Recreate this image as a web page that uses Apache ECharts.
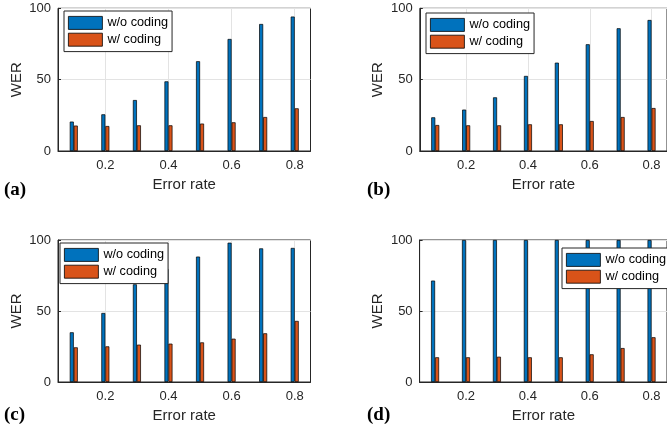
<!DOCTYPE html>
<html>
<head>
<meta charset="utf-8">
<script src="https://cdn.jsdelivr.net/npm/echarts@6/dist/echarts.min.js"></script>
<style>
  html, body { margin: 0; padding: 0; background: #fff; }
  #chart { width: 667px; height: 431px; }
</style>
</head>
<body>
<div id="chart"></div>
<script>
// error rates (x categories)
var categories = ['0.1', '0.2', '0.3', '0.4', '0.5', '0.6', '0.7', '0.8'];
var yTicks = [0, 50, 100];
var seriesNames = ['w/o coding', 'w/ coding'];
var panelLabels = ['(a)', '(b)', '(c)', '(d)'];

// WER values per panel
var woCodingA = [20.6, 25.7, 35.7, 48.8, 62.9, 78.5, 89, 94.2];
var wCodingA = [17.8, 17.5, 18, 18, 19.2, 20.1, 23.8, 29.9];

var woCodingB = [23.6, 29, 37.6, 52.6, 61.9, 74.8, 86, 91.8];
var wCodingB = [18.2, 18, 18, 18.7, 18.7, 21, 23.8, 30.1];

var woCodingC = [35, 48.6, 68.8, 79.6, 88.3, 98.1, 94.1, 94.4];
var wCodingC = [24.4, 25.1, 26.3, 27, 27.9, 30.5, 34.3, 43];

var woCodingD = [71.4, 100, 100, 100, 100, 100, 100, 100];
var wCodingD = [17.4, 17.4, 17.8, 17.4, 17.4, 19.5, 23.9, 31.5];

var panelData = [
    [woCodingA, wCodingA],
    [woCodingB, wCodingB],
    [woCodingC, wCodingC],
    [woCodingD, wCodingD]
];

var colors = ['#0072BD', '#D95319'];
var txt = '#262626';
var font = 'Liberation Sans, Arial, Helvetica, sans-serif';

var grids = [
    { left: 58, top: 8.3, width: 252.5, height: 142.7 },
    { left: 419.8, top: 8.3, width: 252.5, height: 142.7 },
    { left: 58, top: 240, width: 252.5, height: 142 },
    { left: 419.6, top: 240, width: 252.5, height: 142 }
];
var legendPos = [
    { left: 64, top: 11 },
    { left: 426, top: 13 },
    { left: 60, top: 243 },
    { left: 562, top: 248 }
];
var labelPos = [
    { left: 4, top: 181 },
    { left: 367, top: 181 },
    { left: 4, top: 406 },
    { left: 367, top: 406 }
];

function everyOther(i) { return i % 2 === 1; }

var option = {
    animation: false,
    backgroundColor: '#fff',
    color: colors,
    grid: grids.map(function (g) {
        return Object.assign({
            show: true,
            backgroundColor: 'transparent',
            borderColor: txt,
            borderWidth: 1,
            containLabel: false
        }, g);
    }),
    xAxis: grids.map(function (g, i) {
        return {
            type: 'category',
            gridIndex: i,
            data: categories,
            name: 'Error rate',
            nameLocation: 'middle',
            nameGap: 26,
            nameTextStyle: { color: txt, fontSize: 15, fontFamily: font },
            axisLine: { lineStyle: { color: txt, width: 1 } },
            axisTick: { inside: true, length: 3, alignWithLabel: true, interval: everyOther, lineStyle: { color: txt } },
            axisLabel: { interval: everyOther, color: txt, fontSize: 13, fontFamily: font, margin: 8 },
            splitLine: { show: true, interval: everyOther, alignWithLabel: true, lineStyle: { color: '#e3e3e3', width: 1 } }
        };
    }),
    yAxis: grids.map(function (g, i) {
        return {
            type: 'value',
            gridIndex: i,
            min: yTicks[0],
            max: yTicks[yTicks.length - 1],
            interval: yTicks[1] - yTicks[0],
            name: 'WER',
            nameLocation: 'middle',
            nameGap: 34,
            nameTextStyle: { color: txt, fontSize: 15, fontFamily: font },
            axisLine: { show: true, lineStyle: { color: txt, width: 1 } },
            axisTick: { show: true, inside: true, length: 3, lineStyle: { color: txt } },
            axisLabel: { color: txt, fontSize: 13, fontFamily: font, margin: 7 },
            splitLine: { show: true, lineStyle: { color: '#e3e3e3', width: 1 } }
        };
    }),
    legend: legendPos.map(function (p) {
        return {
            left: p.left,
            top: p.top,
            orient: 'vertical',
            data: seriesNames,
            icon: 'rect',
            itemWidth: 34,
            itemHeight: 13,
            itemGap: 3,
            padding: [5, 4, 5, 4],
            backgroundColor: '#fff',
            borderColor: txt,
            borderWidth: 1,
            borderRadius: 0,
            selectedMode: false,
            itemStyle: { borderColor: '#000', borderWidth: 0.8 },
            textStyle: { color: '#000', fontSize: 12.7, fontFamily: font }
        };
    }),
    graphic: panelLabels.map(function (t, i) {
        return {
            type: 'text',
            left: labelPos[i].left,
            top: labelPos[i].top,
            style: { text: t, fill: '#000', font: 'bold 19px "Liberation Serif", "Times New Roman", serif' }
        };
    }),
    series: []
};

panelData.forEach(function (pair, i) {
    pair.forEach(function (vals, k) {
        option.series.push({
            type: 'bar',
            name: seriesNames[k],
            xAxisIndex: i,
            yAxisIndex: i,
            data: vals,
            barWidth: 4,
            barGap: '0%',
            itemStyle: { color: colors[k], borderColor: '#000', borderWidth: 0.7 }
        });
    });
});

var myChart = echarts.init(document.getElementById('chart'));
myChart.setOption(option);
</script>
</body>
</html>
